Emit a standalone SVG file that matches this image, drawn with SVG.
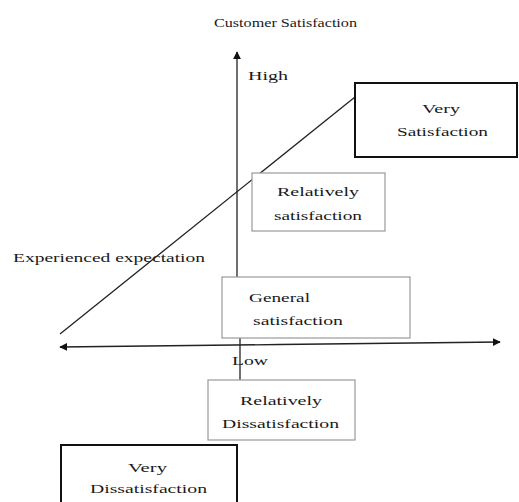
<svg xmlns="http://www.w3.org/2000/svg" width="519" height="502" viewBox="0 0 519 502">
<style>
text{font-family:"Liberation Serif","DejaVu Serif",serif;font-size:13.5px;fill:#1a1a1a}
.thick{fill:#fff;stroke:#111;stroke-width:2}
.thin{fill:#fff;stroke:#999;stroke-width:1.2}
.ln{stroke:#222;stroke-width:1.3;fill:none}
</style>
<defs>
<marker id="ah" viewBox="0 0 10 10" refX="9" refY="5" markerWidth="8" markerHeight="8" markerUnits="userSpaceOnUse" orient="auto">
<path d="M0,0 L10,5 L0,10 Z" fill="#111"/>
</marker>
</defs>
<rect width="519" height="502" fill="#fff"/>
<text x="214" y="27" textLength="143" lengthAdjust="spacingAndGlyphs">Customer Satisfaction</text>
<text x="13" y="262" textLength="192" lengthAdjust="spacingAndGlyphs">Experienced expectation</text>
<g id="connectors">
<line class="ln" x1="60" y1="334" x2="355" y2="97"/>
<line class="ln" x1="237" y1="277" x2="237" y2="52" marker-end="url(#ah)"/>
<line class="ln" x1="240" y1="338" x2="240" y2="380"/>
<line class="ln" x1="280" y1="344.5" x2="500" y2="342" marker-end="url(#ah)"/>
<line class="ln" x1="280" y1="344.5" x2="60" y2="347" marker-end="url(#ah)"/>
</g>
<text x="248" y="80" textLength="40" lengthAdjust="spacingAndGlyphs">High</text>
<text x="232" y="365" textLength="36" lengthAdjust="spacingAndGlyphs">Low</text>
<g id="very-satisfaction">
<rect class="thick" x="355" y="83" width="162" height="74"/>
<text x="422" y="113" textLength="38" lengthAdjust="spacingAndGlyphs">Very</text>
<text x="397" y="136" textLength="91" lengthAdjust="spacingAndGlyphs">Satisfaction</text>
</g>
<g id="relatively-satisfaction">
<rect class="thin" x="252" y="173" width="133" height="58"/>
<text x="277" y="196" textLength="82" lengthAdjust="spacingAndGlyphs">Relatively</text>
<text x="274" y="220" textLength="88" lengthAdjust="spacingAndGlyphs">satisfaction</text>
</g>
<g id="general-satisfaction">
<rect class="thin" x="222" y="277" width="188" height="61"/>
<text x="249" y="302" textLength="61" lengthAdjust="spacingAndGlyphs">General</text>
<text x="253" y="325" textLength="90" lengthAdjust="spacingAndGlyphs">satisfaction</text>
</g>
<g id="relatively-dissatisfaction">
<rect class="thin" x="208" y="380" width="147" height="60"/>
<text x="240" y="405" textLength="82" lengthAdjust="spacingAndGlyphs">Relatively</text>
<text x="222" y="428" textLength="117" lengthAdjust="spacingAndGlyphs">Dissatisfaction</text>
</g>
<g id="very-dissatisfaction">
<rect class="thick" x="61" y="445" width="176" height="62"/>
<text x="128" y="472" textLength="39" lengthAdjust="spacingAndGlyphs">Very</text>
<text x="90" y="493" textLength="117" lengthAdjust="spacingAndGlyphs">Dissatisfaction</text>
</g>
</svg>
